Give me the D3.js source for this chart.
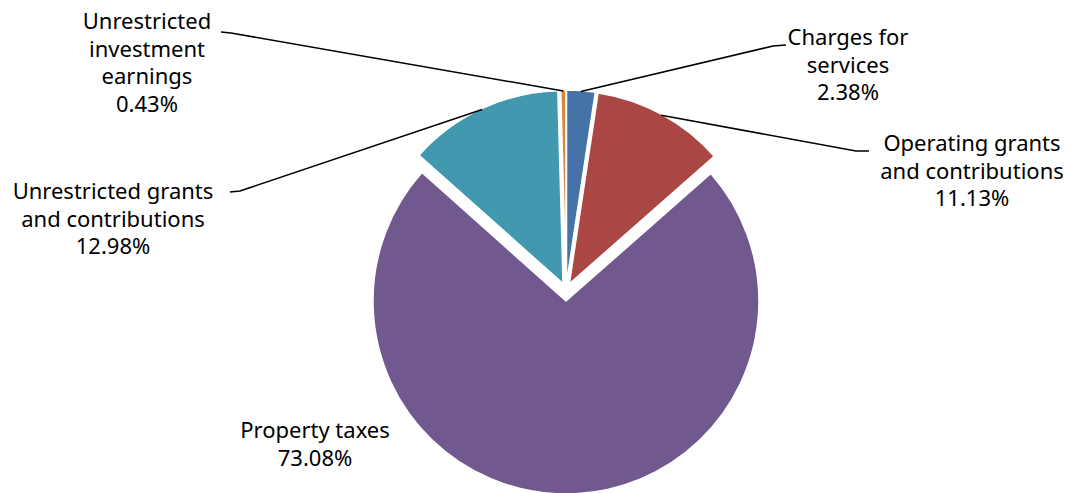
<!DOCTYPE html>
<html>
<head>
<meta charset="utf-8">
<script src="https://cdn.jsdelivr.net/npm/d3@7"></script>
<style>
  body { margin: 0; background: #fff; }
  svg text { font-family: "Noto Sans", sans-serif; font-size: 22px; fill: #000; }
</style>
</head>
<body>
<script>
var categories = ["Charges for services", "Operating grants and contributions", "Property taxes", "Unrestricted grants and contributions", "Unrestricted investment earnings"];
var values = [2.38, 11.13, 73.08, 12.98, 0.43];
var labelLines = [
  ["Charges for", "services", "2.38%"],
  ["Operating grants", "and contributions", "11.13%"],
  ["Property taxes", "73.08%"],
  ["Unrestricted grants", "and contributions", "12.98%"],
  ["Unrestricted", "investment", "earnings", "0.43%"]
];
var colors = ["#4572A7", "#AA4643", "#71588F", "#4198AF", "#DB843D"];

// label layout: text centre x, first baseline y, elbow of leader (null = inside the slice)
var labelPos = [
  { x: 848, y: 45, elbow: [773, 46], end: [786, 45] },
  { x: 972, y: 151, elbow: [856, 151], end: [869, 151] },
  { x: 315, y: 438, elbow: null },
  { x: 113, y: 199, elbow: [240, 191], end: [230, 192] },
  { x: 147, y: 29, elbow: [231, 33], end: [221, 32] }
];

var W = 1070, H = 493, cx = 566, cy = 290, r = 193, lineGap = 27.5;
function explode(i) { return i == 2 ? 11 : 7; }

var svg = d3.select("body").append("svg").attr("width", W).attr("height", H);

var pie = d3.pie().sort(null).value(function(d) { return d; });
var arcs = pie(values);
var arc = d3.arc().innerRadius(0).outerRadius(r);

function offset(d, i) {
  var a = (d.startAngle + d.endAngle) / 2;
  return [explode(i) * Math.sin(a), -explode(i) * Math.cos(a)];
}

var g = svg.append("g").attr("transform", "translate(" + cx + "," + cy + ")");

g.selectAll("path").data(arcs).enter().append("path")
  .attr("d", arc)
  .attr("fill", function(d, i) { return colors[i]; })
  .attr("stroke", "#fff")
  .attr("stroke-width", 1.5)
  .attr("stroke-linejoin", "round")
  .attr("transform", function(d, i) { return "translate(" + offset(d, i) + ")"; });

// leader lines
arcs.forEach(function(d, i) {
  var p = labelPos[i];
  if (!p.elbow) return;
  var a = (d.startAngle + d.endAngle) / 2, o = offset(d, i);
  var sx = cx + o[0] + (r - 1) * Math.sin(a), sy = cy + o[1] - (r - 1) * Math.cos(a);
  svg.append("path")
    .attr("d", "M" + sx + "," + sy + "L" + p.elbow[0] + "," + p.elbow[1] + "L" + p.end[0] + "," + p.end[1])
    .attr("fill", "none").attr("stroke", "#000").attr("stroke-width", 1.5);
});

// labels
labelPos.forEach(function(p, i) {
  var t = svg.append("text").attr("text-anchor", "middle");
  labelLines[i].forEach(function(line, j) {
    t.append("tspan").attr("x", p.x).attr("y", p.y + j * lineGap).text(line);
  });
});
</script>
</body>
</html>
